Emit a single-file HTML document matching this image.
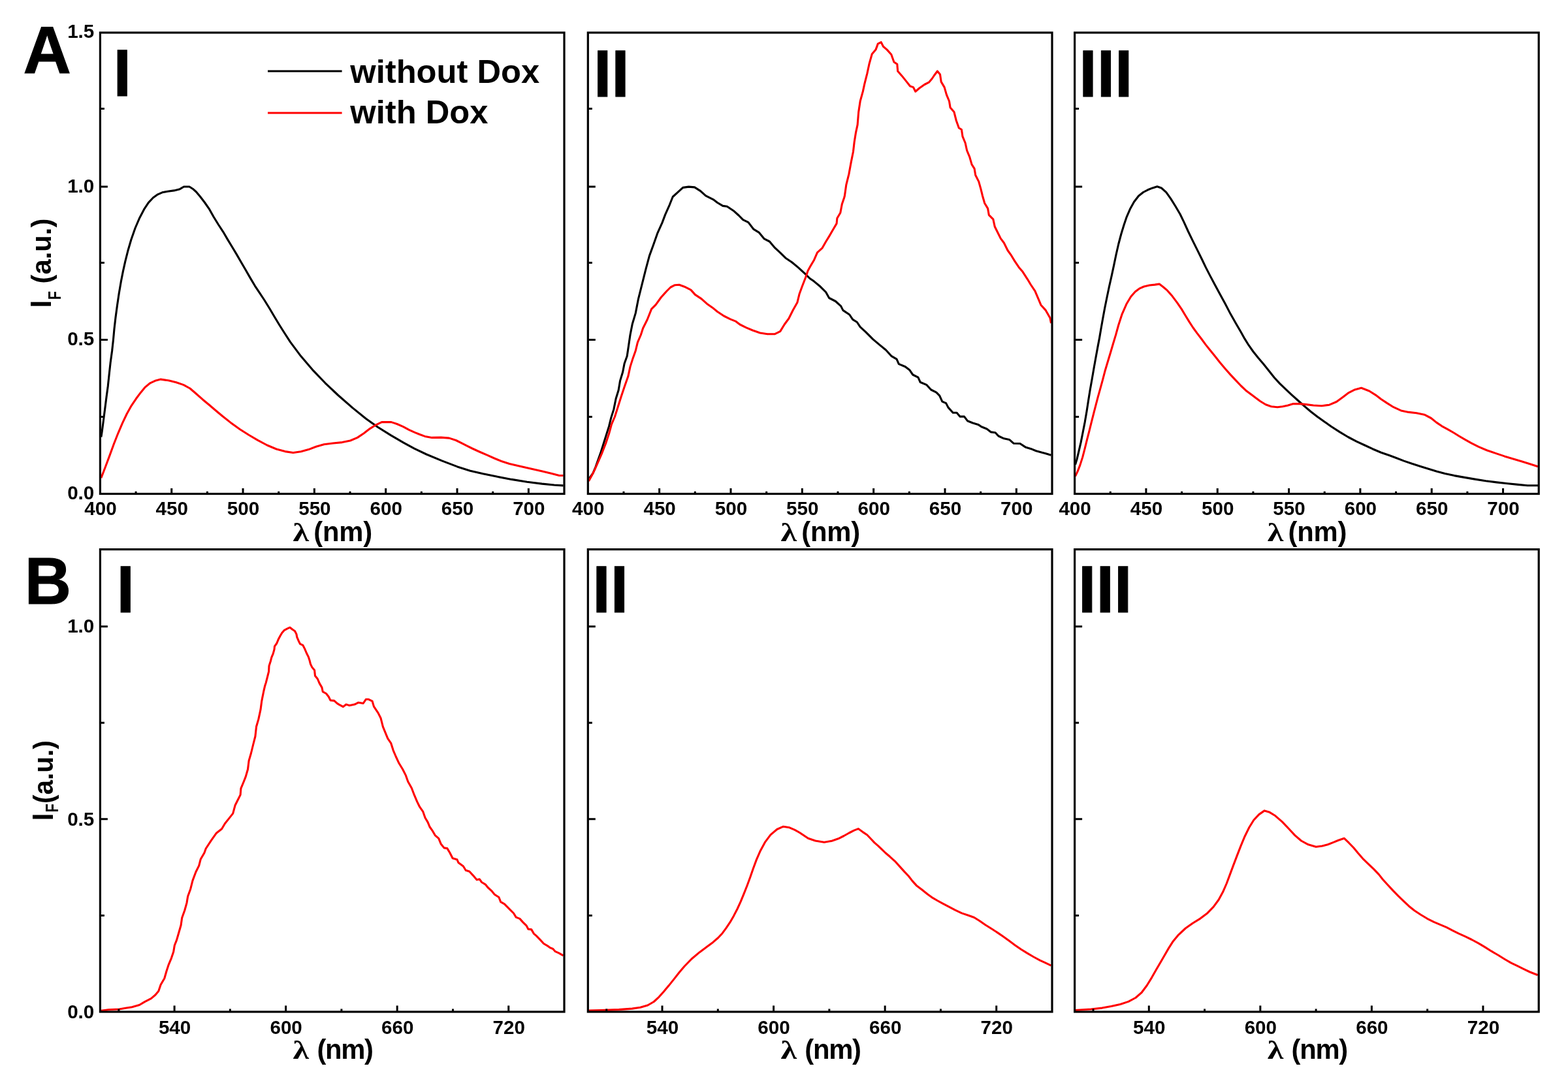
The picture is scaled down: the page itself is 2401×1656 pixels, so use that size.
<!DOCTYPE html>
<html lang="en">
<head>
<meta charset="utf-8">
<title>Fluorescence spectra with and without Dox</title>
<style>
html,body{margin:0;padding:0;background:#fff;}
body{width:2401px;height:1656px;}
svg{display:block;font-family:"Liberation Sans",Arial,Helvetica,sans-serif;font-weight:bold;fill:#000;}
.ax{fill:none;stroke:#000;stroke-width:3.2;stroke-linejoin:miter;}
.tk{stroke:#000;stroke-width:3;fill:none;}
.cb{fill:none;stroke:#000;stroke-width:3.1;stroke-linejoin:round;stroke-linecap:butt;}
.cr{fill:none;stroke:#f00;stroke-width:3.1;stroke-linejoin:round;stroke-linecap:butt;}
.tl{font-size:29.33px;}
.at{font-size:41.8px;}
.pl{font-size:98.67px;stroke:#000;stroke-width:1px;stroke-linejoin:miter;}
.lg{font-size:50.67px;}
.lam{font-family:"Liberation Serif","Liberation Sans",serif;font-weight:bold;font-size:41px;}
.sub{font-size:26px;}
</style>
</head>
<body>
<svg width="2401" height="1656" viewBox="0 0 2401 1656">
<rect x="0" y="0" width="2401" height="1656" fill="#fff"/>

<g id="panel-A1">
<clipPath id="clipA0"><rect x="153.4" y="50" width="710.6" height="706.5"/></clipPath>
<g clip-path="url(#clipA0)">
<path class="cb" d="M154.9 669.4 L156.3 660.4 L158.2 645.8 L160.6 627.1 L163 608.3 L165.3 591.2 L167.1 574.1 L169.1 555.8 L171.6 537.5 L173.5 520.1 L175 503.6 L177 486.3 L179.5 467.7 L182.2 449.4 L185.2 431.9 L188.4 415.6 L191.8 400.4 L195.7 384.8 L200.8 367.3 L207 349.5 L213.8 333.7 L220.6 320.7 L227.4 310.4 L234.6 302.8 L241.6 297.8 L248.4 294.8 L256.6 293.2 L266.5 291.9 L275.4 289.7 L281.5 286 L290 286 L295.1 289.2 L300.5 294 L306.4 301 L313.3 310 L320.7 320.7 L327.3 332.5 L334.4 344 L341.8 355.3 L348.4 366.6 L355 377.5 L362 389.1 L369 401.2 L376 413.3 L383.4 426.1 L390.3 437.8 L397 447.9 L404.7 459.5 L412.9 472.7 L420.7 486 L428.1 498.2 L434.9 509 L444.5 523.8 L460.7 545.6 L479.9 567.9 L498 586.8 L517.8 605.5 L540 624.9 L560.2 641.2 L578.4 654.2 L598.6 666.9 L618.3 678.3 L634.4 687.2 L653 696 L677.4 706.1 L700.3 714.9 L720 721.2 L739.7 725.8 L760.5 730.1 L783.3 734.4 L807.1 738.2 L829.9 741.1 L848.6 743 L862.6 743.9"/>
<path class="cr" d="M154.9 732.1 L161.4 715.2 L167.9 697.9 L174.4 680 L181 663.3 L187.5 648.2 L194.2 634 L201.3 621.3 L208.4 610.8 L215.4 601.4 L222.3 593.1 L230 586.8 L238.6 582.9 L246.1 581.1 L258.8 583 L269.8 585.8 L281.1 589.6 L290.9 595 L299.9 602.7 L310 611.7 L320.6 620.5 L330.8 629.2 L341 637.8 L353.2 647.4 L367.5 657.7 L381.3 666.5 L394.7 674.3 L409 682 L423.3 688 L436.5 691.6 L448.9 693.5 L460.9 691.7 L472.5 688.6 L483.9 684.2 L496.1 680.7 L509.9 679 L524 677.6 L536.4 675 L547.3 670.4 L557.2 663.7 L566.5 656.6 L575.8 650.8 L584.6 646.6 L599.1 646.6 L607.9 649.5 L617.3 653.6 L626.6 658.6 L635.5 662.6 L642.7 665.5 L650.5 668.4 L661.4 670.4 L675.4 670.1 L687.8 671.1 L698.2 674.5 L707 678.9 L714.8 682.8 L723.1 687 L734 692 L745.9 697.2 L756.8 702 L767.7 706.5 L780.1 710.4 L795.2 714.1 L812.8 718.1 L830.5 722.1 L845 725.6 L856.4 728.5 L862.6 728.5"/>
</g>
<rect class="ax" x="153.4" y="50" width="710.6" height="706.5"/>
<path class="tk" d="M262.72 756.5V748M372.05 756.5V748M481.37 756.5V748M590.69 756.5V748M700.02 756.5V748M809.34 756.5V748M208.06 756.5V752.8M317.38 756.5V752.8M426.71 756.5V752.8M536.03 756.5V752.8M645.35 756.5V752.8M754.68 756.5V752.8M153.4 520.5H164.9M153.4 286H164.9M153.4 638.6H159.9M153.4 402.6H159.9M153.4 166.5H159.9"/>
<text class="tl" transform="translate(153.9 789.1) scale(1.01 1.03)" text-anchor="middle">400</text>
<text class="tl" transform="translate(263.22 789.1) scale(1.01 1.03)" text-anchor="middle">450</text>
<text class="tl" transform="translate(372.55 789.1) scale(1.01 1.03)" text-anchor="middle">500</text>
<text class="tl" transform="translate(481.87 789.1) scale(1.01 1.03)" text-anchor="middle">550</text>
<text class="tl" transform="translate(591.19 789.1) scale(1.01 1.03)" text-anchor="middle">600</text>
<text class="tl" transform="translate(700.52 789.1) scale(1.01 1.03)" text-anchor="middle">650</text>
<text class="tl" transform="translate(809.84 789.1) scale(1.01 1.03)" text-anchor="middle">700</text>
<text class="tl" transform="translate(144.3 764.7) scale(1.01 1.03)" text-anchor="end">0.0</text>
<text class="tl" transform="translate(144.3 528.7) scale(1.01 1.03)" text-anchor="end">0.5</text>
<text class="tl" transform="translate(144.3 294.5) scale(1.01 1.03)" text-anchor="end">1.0</text>
<text class="tl" transform="translate(144.3 57.7) scale(1.01 1.03)" text-anchor="end">1.5</text>
<text class="lam" transform="translate(448.5 828.5) scale(1.22 1)">λ</text>
<text class="at" transform="translate(480.3 828.5)" letter-spacing="-0.2">(nm)</text>
<text class="pl" transform="translate(173.4 146.5) scale(1 1.03)">I</text>
</g>
<g id="panel-A2">
<clipPath id="clipA1"><rect x="900.3" y="50" width="710.7" height="706.5"/></clipPath>
<g clip-path="url(#clipA1)">
<path class="cb" d="M902.3 732.9 L908 724.8 L912.1 715 L916.2 703.6 L920.2 692.2 L924.3 679.2 L928.4 666.1 L932.5 653.1 L935.7 640.1 L939.8 627.1 L943.1 610.8 L947.1 597.7 L949.6 583.1 L953.6 570 L956.1 557 L960.2 545.6 L962.6 529.3 L965 513 L968.3 496.2 L973.2 479.9 L977.3 458.7 L983 435.9 L988.7 413.1 L994.4 391.9 L1000.9 374 L1006.6 357.7 L1013.9 341.4 L1018.8 328.4 L1025.3 313.8 L1030.2 301.5 L1038.3 294.2 L1045.7 287.4 L1054.6 286.1 L1063.6 286.9 L1072.6 292.6 L1080.7 299.9 L1092.1 305.6 L1098.6 310.5 L1106.8 315.4 L1113.3 316.2 L1123 322.7 L1131.2 330 L1137.7 336.6 L1145.9 340.6 L1154 351.2 L1162.1 356.1 L1170.3 365.9 L1178.4 370 L1186.6 379.7 L1194.7 387.1 L1202.9 395.2 L1212.6 401.7 L1222.4 409.9 L1232.2 418.8 L1240 426.5 L1246.6 431.1 L1256.4 439.3 L1264.6 447.5 L1269.6 456.5 L1279.4 461.5 L1287.6 468.9 L1290.9 475.4 L1300.8 482 L1305.7 489.4 L1312.3 493.5 L1317.2 500.9 L1325.4 508.3 L1336.9 519.9 L1346.7 528.1 L1356.6 536.3 L1364.8 545.3 L1373 550.2 L1376.3 557.6 L1386.2 561.7 L1392.7 566.7 L1397.7 574 L1405.9 578.2 L1409.2 585.5 L1419 589.7 L1425.6 597 L1433.8 601.1 L1438.7 606.1 L1442.8 615.1 L1448.6 617.6 L1451.9 624.1 L1459.2 632.3 L1465 632.3 L1469.9 638.1 L1476.5 638.1 L1481.4 644.7 L1489.6 648 L1497.8 650.4 L1502.8 653.7 L1511 657 L1517.5 661.9 L1524.1 662.7 L1529 668 L1537.3 671.8 L1545.5 673.4 L1552 679.2 L1561.9 679.5 L1570.1 684.9 L1578.3 687.4 L1586.5 690.7 L1594.7 693.1 L1601.3 694.8 L1609.5 697.2"/>
<path class="cr" d="M901.5 737 L906.4 728 L910.5 719.9 L916.2 706.9 L921.9 693.8 L927.6 679.2 L932.5 664.5 L936.5 649.9 L941.4 638.5 L947.1 620.5 L951.2 607.5 L956.1 592.8 L961.8 576.6 L965 561.9 L969.1 548.9 L973.2 537.5 L976.4 524.4 L981.3 513 L984.6 502.7 L991.1 489.7 L997.6 473.4 L1004.1 466.9 L1012.3 455.5 L1020.4 446.5 L1026.9 440 L1033.5 436.7 L1040 436.3 L1048.1 439.2 L1057.9 444.1 L1064.4 451.4 L1074.2 457.9 L1082.3 465.2 L1090.5 470.9 L1098.6 477.5 L1108.4 484 L1118.2 488.9 L1126.3 492.1 L1132.8 497 L1142.6 501.9 L1152.4 506 L1163.8 510 L1175.2 511.7 L1186.6 511.7 L1194.7 507.6 L1201.2 497 L1207.8 488 L1214.3 475 L1220.8 463.6 L1224 450.6 L1228.1 439.2 L1233.8 424.5 L1237.1 414.7 L1240.8 408.1 L1246.6 398.2 L1251.5 386.8 L1258.9 380.2 L1264.6 370.3 L1269.6 362.1 L1275.3 352.3 L1281.1 342.4 L1281.9 334.2 L1286.8 326 L1289.3 312.8 L1292.6 303 L1293.4 300 L1295.8 283.1 L1299.9 266.6 L1303.2 248.6 L1306.5 232.2 L1308.2 217.4 L1310.6 202.6 L1313.1 191.1 L1314.7 171.4 L1317.2 155 L1321.3 140.2 L1323.8 128.7 L1327.9 112.3 L1331.1 97.5 L1335.3 82.7 L1341 76.1 L1344.3 67.1 L1349.2 64.6 L1352.5 71.2 L1358.2 76.1 L1364.8 83.5 L1368.9 95 L1373.8 98.3 L1374.7 109 L1381.2 116.4 L1387.8 124.6 L1393.6 132 L1398.5 133.6 L1401.8 140.2 L1407.5 135.3 L1415.7 129.5 L1422.3 126.2 L1427.2 120.5 L1430.5 115.5 L1435.4 109 L1439.5 113.9 L1441.2 125.4 L1446.1 133.6 L1449.4 145.1 L1453.5 155 L1455.1 164.8 L1460.9 171.4 L1464.2 184.5 L1468.3 196 L1472.4 198.5 L1474 209.2 L1478.1 219 L1480.6 230.5 L1484.7 240.4 L1488 251.9 L1492.1 258.4 L1493.7 268.3 L1498.7 278.1 L1502 289.9 L1504.4 299.7 L1507.7 311.2 L1512.6 319.4 L1514.3 329.3 L1520.8 335.8 L1523.3 347.3 L1527.4 355.5 L1532.3 365.4 L1537.3 372 L1543 383.5 L1548.8 391.7 L1553.7 399.9 L1560.3 409.7 L1566 416.3 L1573.4 427.8 L1578.3 436 L1584.9 445.9 L1589.8 457.4 L1593.9 467.2 L1601.3 475.4 L1607.9 486.9 L1609.5 495.1"/>
</g>
<rect class="ax" x="900.3" y="50" width="710.7" height="706.5"/>
<path class="tk" d="M1009.64 756.5V748M1118.98 756.5V748M1228.32 756.5V748M1337.65 756.5V748M1446.99 756.5V748M1556.33 756.5V748M954.97 756.5V752.8M1064.31 756.5V752.8M1173.65 756.5V752.8M1282.98 756.5V752.8M1392.32 756.5V752.8M1501.66 756.5V752.8M900.3 520.5H911.8M900.3 286H911.8M900.3 638.6H906.8M900.3 402.6H906.8M900.3 166.5H906.8"/>
<text class="tl" transform="translate(900.8 789.1) scale(1.01 1.03)" text-anchor="middle">400</text>
<text class="tl" transform="translate(1010.14 789.1) scale(1.01 1.03)" text-anchor="middle">450</text>
<text class="tl" transform="translate(1119.48 789.1) scale(1.01 1.03)" text-anchor="middle">500</text>
<text class="tl" transform="translate(1228.82 789.1) scale(1.01 1.03)" text-anchor="middle">550</text>
<text class="tl" transform="translate(1338.15 789.1) scale(1.01 1.03)" text-anchor="middle">600</text>
<text class="tl" transform="translate(1447.49 789.1) scale(1.01 1.03)" text-anchor="middle">650</text>
<text class="tl" transform="translate(1556.83 789.1) scale(1.01 1.03)" text-anchor="middle">700</text>
<text class="lam" transform="translate(1195.4 828.5) scale(1.22 1)">λ</text>
<text class="at" transform="translate(1227.2 828.5)" letter-spacing="-0.2">(nm)</text>
<text class="pl" transform="translate(908.9 148) scale(1 1.03)">II</text>
</g>
<g id="panel-A3">
<clipPath id="clipA2"><rect x="1645.6" y="50" width="710.6" height="706.5"/></clipPath>
<g clip-path="url(#clipA2)">
<path class="cb" d="M1646.5 711.8 L1649 703.6 L1651.8 691.8 L1655.1 677.6 L1658.1 662.5 L1661.2 646.6 L1664 630.3 L1666.5 614 L1669.1 597.7 L1672 581.4 L1674.8 565.2 L1677.7 548.9 L1680.7 532.6 L1683.6 517.4 L1686 503.2 L1688.7 488 L1691.7 471.8 L1695 455.5 L1698.4 439.2 L1702.1 422.9 L1705.6 406.6 L1709 390.3 L1712.7 374 L1716.8 358.5 L1721 344.7 L1725.3 332.1 L1730.4 320.3 L1736.5 309.3 L1743.4 300.3 L1750.6 294.5 L1757.7 290.8 L1765 287.9 L1771.9 285.7 L1778.4 288 L1785.8 294.6 L1792.7 304.4 L1799.8 315.8 L1807 328 L1813.1 340.6 L1819.4 354.5 L1826.5 369.1 L1833.6 383.4 L1840.2 396.8 L1846.5 409.9 L1853.2 422.9 L1860.3 436.3 L1868 450.6 L1876.2 465.6 L1884.3 481.1 L1892.5 495.5 L1899.8 508 L1905.9 518.9 L1912 528.7 L1918.9 538.5 L1926.7 548.3 L1934.8 557.8 L1943 568 L1951.1 578.2 L1959.7 587.6 L1968.6 596.1 L1977.9 604.8 L1988.1 614 L1998.1 622.8 L2007.4 630.8 L2017.1 638.2 L2027.6 645.8 L2039 653.7 L2051.2 661.6 L2064.3 669.5 L2077.4 676.3 L2089.6 682 L2101.8 687.7 L2114.8 693.2 L2127.9 697.8 L2139.2 702 L2149.8 706.1 L2162 710.3 L2175.1 714.4 L2187.3 718.2 L2199.5 722 L2212.6 725.6 L2226.9 728.6 L2242.5 731.4 L2258.5 734.1 L2275 736.7 L2291.8 738.9 L2308.7 740.8 L2324.7 742.4 L2339 743.8 L2355 743.8"/>
<path class="cr" d="M1646.5 729.7 L1650 722.4 L1653.8 712.6 L1657.7 700.4 L1661.2 686.9 L1664.6 673.1 L1668.1 659.6 L1671.3 646.6 L1674.6 633.6 L1677.9 620.9 L1681.1 608.7 L1684.6 596.1 L1688.3 582.7 L1691.9 568.8 L1696 555 L1700.3 540.7 L1704.5 526.5 L1708.6 512.9 L1712.7 498 L1718.2 481.1 L1724.9 465.8 L1731.8 454.2 L1738.4 446.7 L1744.5 442.2 L1751.6 439 L1760.1 437 L1768.3 436.1 L1775.2 435.1 L1780.7 439.2 L1787.4 444.9 L1795 453.6 L1802.5 463.6 L1809.2 473.4 L1815.1 483.2 L1821 492.9 L1826.9 502 L1833 510.4 L1839.8 519.3 L1846.1 527.9 L1852.4 535.8 L1859.9 545 L1868 555.2 L1876.2 565 L1884.3 574.1 L1892.5 582.9 L1900.2 591 L1907.5 597.9 L1914.9 603.6 L1922.2 609.1 L1929.9 614.8 L1938.1 619.8 L1946.6 622.8 L1956 623.8 L1964.1 622.7 L1972.3 620.9 L1980.4 618.6 L1990.2 618.6 L2000.2 619.6 L2011.2 621 L2023.8 621.8 L2035.6 620.2 L2046.5 615.5 L2055.8 608.7 L2064.3 602.2 L2073.6 597.3 L2084.5 594.2 L2096.7 599 L2106.4 605.1 L2114.8 611.5 L2123.7 617.4 L2133.8 623.7 L2145.2 628.9 L2157 631.4 L2169 632.7 L2181 635.2 L2191.3 640.5 L2199.5 647.1 L2207.9 652.8 L2217.2 657.8 L2226.1 663 L2234.5 668.2 L2243.3 673.4 L2253.1 678.8 L2264 684.4 L2276.6 689.7 L2290.1 694.4 L2303.6 698.9 L2317.1 703 L2330.6 707.1 L2343.4 711.1 L2355 714.7"/>
</g>
<rect class="ax" x="1645.6" y="50" width="710.6" height="706.5"/>
<path class="tk" d="M1754.92 756.5V748M1864.25 756.5V748M1973.57 756.5V748M2082.89 756.5V748M2192.22 756.5V748M2301.54 756.5V748M1700.26 756.5V752.8M1809.58 756.5V752.8M1918.91 756.5V752.8M2028.23 756.5V752.8M2137.55 756.5V752.8M2246.88 756.5V752.8M1645.6 520.5H1657.1M1645.6 286H1657.1M1645.6 638.6H1652.1M1645.6 402.6H1652.1M1645.6 166.5H1652.1"/>
<text class="tl" transform="translate(1646.1 789.1) scale(1.01 1.03)" text-anchor="middle">400</text>
<text class="tl" transform="translate(1755.42 789.1) scale(1.01 1.03)" text-anchor="middle">450</text>
<text class="tl" transform="translate(1864.75 789.1) scale(1.01 1.03)" text-anchor="middle">500</text>
<text class="tl" transform="translate(1974.07 789.1) scale(1.01 1.03)" text-anchor="middle">550</text>
<text class="tl" transform="translate(2083.39 789.1) scale(1.01 1.03)" text-anchor="middle">600</text>
<text class="tl" transform="translate(2192.72 789.1) scale(1.01 1.03)" text-anchor="middle">650</text>
<text class="tl" transform="translate(2302.04 789.1) scale(1.01 1.03)" text-anchor="middle">700</text>
<text class="lam" transform="translate(1940.7 828.5) scale(1.22 1)">λ</text>
<text class="at" transform="translate(1972.5 828.5)" letter-spacing="-0.2">(nm)</text>
<text class="pl" transform="translate(1652.3 148) scale(1 1.03)">III</text>
</g>
<text class="pl" transform="translate(35.5 112.1) scale(1.03 1.03)">A</text>
<text class="at" transform="translate(77.9 471.6) rotate(-90) scale(1 1.04)">I</text>
<text class="sub" transform="translate(92.6 459.3) rotate(-90) scale(0.83 1.03)">F</text>
<text class="at" transform="translate(77.9 434.5) rotate(-90)">(a.u.)</text>
<g id="panel-B1">
<clipPath id="clipB0"><rect x="153.4" y="841.6" width="710.6" height="708.4"/></clipPath>
<g clip-path="url(#clipB0)">
<path class="cr" d="M154.9 1548.4 L166.3 1546.8 L182.6 1546 L192.4 1544.3 L202.1 1542.7 L213.5 1539.5 L221.7 1534.6 L231.4 1529.7 L238 1524 L242.8 1518.3 L246.1 1508.5 L251.8 1498.7 L255.1 1487.3 L258.3 1477.6 L262.4 1467.8 L265.7 1458 L267.3 1448.2 L270.5 1440.1 L273.8 1428.7 L277.1 1417.3 L278.7 1405.9 L282.8 1394.5 L286 1383.1 L287.6 1373.3 L291.7 1361.9 L295 1348.9 L299.9 1335.8 L304.7 1326.1 L307.2 1316.3 L312.9 1306.5 L315.2 1300 L323.3 1287.6 L331.4 1276.2 L339.6 1269.7 L344.5 1261.5 L351 1253.4 L356.7 1246.1 L360 1233.8 L364 1225.7 L368.1 1217.6 L368.9 1207.8 L373 1198 L376.2 1189.9 L379.5 1178.5 L381.1 1165.4 L384.4 1154 L387.6 1141 L390.9 1128 L392.5 1113.3 L395.8 1101.9 L399 1087.2 L400.7 1074.2 L401.7 1069.1 L403.6 1059.7 L405.5 1051.3 L407.3 1045.6 L409.2 1038.1 L411.6 1028.7 L412 1020.2 L414.4 1012.7 L415.8 1007.1 L418.2 1001.4 L420 994.9 L420.5 990.2 L423.8 985.5 L426.1 979.8 L429 974.2 L431.8 969.5 L435.5 965.3 L440.2 962.9 L444 961.2 L447.8 964.3 L451.5 966.7 L453.9 971.4 L454.8 976.1 L457.2 981.7 L459.5 986.4 L463.7 988.3 L466.6 993.9 L469.4 1000.5 L472.2 1006.1 L474.1 1011.8 L475.5 1017.4 L477.8 1022.1 L481.6 1026.8 L482.5 1035.3 L486.3 1040 L489.1 1046.6 L492.9 1053.1 L494.3 1059.7 L499.5 1062.5 L503.2 1067.2 L506 1072.9 L511.7 1073.4 L516.4 1077.6 L518.8 1079.1 L525.3 1082.7 L530.2 1079.1 L535.1 1080.7 L543.2 1079.1 L548.9 1076.2 L556.2 1077.5 L560.3 1071.3 L564.4 1071.3 L570.1 1074.2 L572.5 1082.4 L579 1092.1 L583.1 1100.3 L586.4 1113.3 L590.4 1123.1 L593.8 1131.4 L598.6 1138.3 L602.1 1149.3 L606.2 1159 L611 1169.3 L616.5 1178.3 L621.4 1187.9 L624.8 1197.6 L630.3 1207.2 L634.5 1218.2 L638.6 1227.9 L642.7 1236.2 L647.6 1243.1 L651 1252.7 L655.1 1259.6 L657.9 1266.5 L662.7 1273.4 L666.2 1279.6 L671.7 1284.4 L675.1 1292.7 L680 1298.9 L684.8 1299.6 L688.9 1306.5 L693.1 1314.8 L699.9 1316.8 L701.9 1321.4 L709.4 1327 L713.2 1333.2 L718.8 1335 L724.4 1341.1 L730.1 1347.7 L734.3 1346.8 L737.6 1351.5 L743.2 1354.8 L747 1359.5 L752.6 1364.6 L757.3 1370.3 L763.9 1374.5 L766.7 1381.6 L772.4 1384.9 L777.1 1389.6 L781.8 1394.3 L786.5 1399 L790.2 1405.1 L795.9 1407.4 L800.6 1412.6 L806.2 1418.2 L809 1423.4 L813.7 1423.9 L817.5 1430.4 L821.3 1433.7 L826.9 1439.4 L832.5 1445.5 L838.2 1448.8 L841.9 1451.6 L846.6 1453.5 L850.4 1457.7 L856 1460.1 L862.5 1463.8"/>
</g>
<rect class="ax" x="153.4" y="841.6" width="710.6" height="708.4"/>
<path class="tk" d="M267.1 1550V1540.5M437.64 1550V1540.5M608.18 1550V1540.5M778.73 1550V1540.5M181.82 1550V1545.5M352.37 1550V1545.5M522.91 1550V1545.5M693.46 1550V1545.5M153.4 1254.83H164.9M153.4 959.67H164.9M153.4 1402.42H159.9M153.4 1107.25H159.9"/>
<text class="tl" transform="translate(267.6 1584.2) scale(1.01 1.03)" text-anchor="middle">540</text>
<text class="tl" transform="translate(438.14 1584.2) scale(1.01 1.03)" text-anchor="middle">600</text>
<text class="tl" transform="translate(608.68 1584.2) scale(1.01 1.03)" text-anchor="middle">660</text>
<text class="tl" transform="translate(779.23 1584.2) scale(1.01 1.03)" text-anchor="middle">720</text>
<text class="tl" transform="translate(144.3 1559.7) scale(1.01 1.03)" text-anchor="end">0.0</text>
<text class="tl" transform="translate(144.3 1264.53) scale(1.01 1.03)" text-anchor="end">0.5</text>
<text class="tl" transform="translate(144.3 969.37) scale(1.01 1.03)" text-anchor="end">1.0</text>
<text class="lam" transform="translate(448.5 1621.8) scale(1.22 1)">λ</text>
<text class="at" transform="translate(485.4 1621.8)" letter-spacing="-1.3">(nm)</text>
<text class="pl" transform="translate(178.4 938.3) scale(1 1.03)">I</text>
</g>
<g id="panel-B2">
<clipPath id="clipB1"><rect x="900.3" y="841.6" width="710.7" height="708.4"/></clipPath>
<g clip-path="url(#clipB1)">
<path class="cr" d="M901.7 1548 L920.9 1547.6 L947.7 1546.6 L968 1545.1 L980.5 1543.3 L991.8 1540 L1001.3 1534.5 L1009 1527.3 L1016.2 1519.3 L1023.9 1510.1 L1032.3 1499.6 L1040 1489.8 L1048.3 1480 L1059 1469 L1071 1458.9 L1082.3 1450.5 L1091.8 1443.4 L1099.5 1436.8 L1106.1 1429.7 L1112 1421.7 L1118 1412.7 L1123.6 1402.9 L1129 1392.5 L1134.3 1380.9 L1139.4 1368.4 L1144.2 1356.2 L1148.6 1344.3 L1153.1 1331.2 L1158.4 1316.9 L1164.4 1303.2 L1171.3 1290.4 L1179.9 1278.9 L1189.7 1270.5 L1199.5 1266.2 L1209 1267.8 L1217.1 1271.4 L1224.4 1275.5 L1230.4 1279.5 L1237.5 1284.2 L1248.5 1288 L1262.1 1290.2 L1273.6 1288.2 L1283.6 1284.8 L1292.2 1280.5 L1300.2 1276 L1307.7 1272.1 L1314.2 1269.6 L1321.2 1274.6 L1327.8 1279 L1333.5 1285 L1339 1290.9 L1344.5 1295.7 L1350 1300.9 L1355.8 1306.5 L1362.6 1312.3 L1370.4 1319.3 L1377.9 1327.6 L1384.9 1335.4 L1391.4 1342.2 L1396.9 1349.4 L1403.2 1356.4 L1411.5 1362.7 L1420.2 1369.7 L1428.5 1375.7 L1436 1380 L1443.6 1384.2 L1452.6 1388.9 L1462.6 1394.2 L1472.6 1398.9 L1482.7 1402.2 L1491.7 1405.5 L1499.7 1410.5 L1508.7 1416.8 L1518.3 1422.8 L1527.3 1428.6 L1536.3 1434.8 L1545.3 1441.3 L1554.3 1447.9 L1563.4 1454.2 L1572.9 1460.1 L1582.9 1466 L1592.4 1471.1 L1601.1 1475.1 L1609.5 1479.1"/>
</g>
<rect class="ax" x="900.3" y="841.6" width="710.7" height="708.4"/>
<path class="tk" d="M1014.01 1550V1540.5M1184.58 1550V1540.5M1355.15 1550V1540.5M1525.72 1550V1540.5M928.73 1550V1545.5M1099.3 1550V1545.5M1269.86 1550V1545.5M1440.43 1550V1545.5M900.3 1254.83H911.8M900.3 959.67H911.8M900.3 1402.42H906.8M900.3 1107.25H906.8"/>
<text class="tl" transform="translate(1014.51 1584.2) scale(1.01 1.03)" text-anchor="middle">540</text>
<text class="tl" transform="translate(1185.08 1584.2) scale(1.01 1.03)" text-anchor="middle">600</text>
<text class="tl" transform="translate(1355.65 1584.2) scale(1.01 1.03)" text-anchor="middle">660</text>
<text class="tl" transform="translate(1526.22 1584.2) scale(1.01 1.03)" text-anchor="middle">720</text>
<text class="lam" transform="translate(1195.4 1621.8) scale(1.22 1)">λ</text>
<text class="at" transform="translate(1232.3 1621.8)" letter-spacing="-1.3">(nm)</text>
<text class="pl" transform="translate(907.3 938.3) scale(1 1.03)">II</text>
</g>
<g id="panel-B3">
<clipPath id="clipB2"><rect x="1645.6" y="841.6" width="710.6" height="708.4"/></clipPath>
<g clip-path="url(#clipB2)">
<path class="cr" d="M1646.9 1547.5 L1670.7 1546 L1687.7 1544.1 L1701.7 1541.5 L1715.4 1538.5 L1727.9 1534.4 L1738.9 1528.5 L1748.1 1520.5 L1756.1 1509.8 L1763.6 1497.6 L1770.7 1485.1 L1777.6 1473.2 L1783.8 1462.4 L1789.5 1452.6 L1795.7 1442.8 L1804.6 1432.1 L1815.4 1422 L1826.4 1414.2 L1838 1407.1 L1849 1398.7 L1858.2 1389.2 L1866 1378.5 L1872.5 1366.6 L1878.2 1353.5 L1883.2 1340.1 L1888.3 1326.4 L1893.9 1311.6 L1899.9 1296.1 L1906.1 1281.2 L1912.7 1267.8 L1919.8 1256.2 L1927.9 1247.6 L1936.2 1241.9 L1943.3 1243.9 L1952.9 1249.8 L1963.3 1258.9 L1973.2 1269.3 L1982.8 1279.6 L1992.5 1288 L2003.3 1293.8 L2015.1 1297.3 L2024.6 1296 L2033.2 1293.8 L2041.2 1290.6 L2049.4 1287.3 L2058.2 1284.2 L2065.5 1291.2 L2072.8 1298.8 L2079.6 1307 L2086.8 1315.3 L2095.1 1323.3 L2103.8 1331.6 L2111.4 1339.6 L2117.4 1347.2 L2124.7 1355.2 L2132.9 1364.1 L2141.2 1372.7 L2149.5 1380.6 L2157.5 1388.2 L2166 1395 L2175.5 1401.2 L2185.5 1407.3 L2195.6 1412.3 L2205.6 1416.6 L2215.1 1420.7 L2224.1 1425.3 L2233.7 1430.1 L2243.7 1434.7 L2253.7 1439.5 L2263.7 1444.9 L2273.8 1450.9 L2283.8 1457.2 L2293.8 1463 L2303.8 1469.2 L2313.9 1475.2 L2323.4 1479.7 L2332.4 1484.2 L2342.6 1489 L2354.7 1493.8"/>
</g>
<rect class="ax" x="1645.6" y="841.6" width="710.6" height="708.4"/>
<path class="tk" d="M1759.3 1550V1540.5M1929.84 1550V1540.5M2100.38 1550V1540.5M2270.93 1550V1540.5M1674.02 1550V1545.5M1844.57 1550V1545.5M2015.11 1550V1545.5M2185.66 1550V1545.5M1645.6 1254.83H1657.1M1645.6 959.67H1657.1M1645.6 1402.42H1652.1M1645.6 1107.25H1652.1"/>
<text class="tl" transform="translate(1759.8 1584.2) scale(1.01 1.03)" text-anchor="middle">540</text>
<text class="tl" transform="translate(1930.34 1584.2) scale(1.01 1.03)" text-anchor="middle">600</text>
<text class="tl" transform="translate(2100.88 1584.2) scale(1.01 1.03)" text-anchor="middle">660</text>
<text class="tl" transform="translate(2271.43 1584.2) scale(1.01 1.03)" text-anchor="middle">720</text>
<text class="lam" transform="translate(1940.7 1621.8) scale(1.22 1)">λ</text>
<text class="at" transform="translate(1977.6 1621.8)" letter-spacing="-1.3">(nm)</text>
<text class="pl" transform="translate(1651.1 938.3) scale(1 1.03)">III</text>
</g>
<text class="pl" transform="translate(37.8 925) scale(1 1.03)">B</text>
<text class="at" transform="translate(80.9 1257.3) rotate(-90) scale(1 1.04)">I</text>
<text class="sub" transform="translate(89.1 1244.6) rotate(-90) scale(0.83 1.03)">F</text>
<text class="at" transform="translate(80.9 1231) rotate(-90) scale(0.97 1)">(a.u.)</text>
<g id="legend">
<path d="M410 109H523.6" stroke="#000" stroke-width="3" fill="none"/>
<path d="M410 173.1H523.6" stroke="#f00" stroke-width="3" fill="none"/>
<text class="lg" transform="translate(536.3 126.6)">without Dox</text>
<text class="lg" transform="translate(536.3 189.2)">with Dox</text>
</g>
</svg>
</body>
</html>
